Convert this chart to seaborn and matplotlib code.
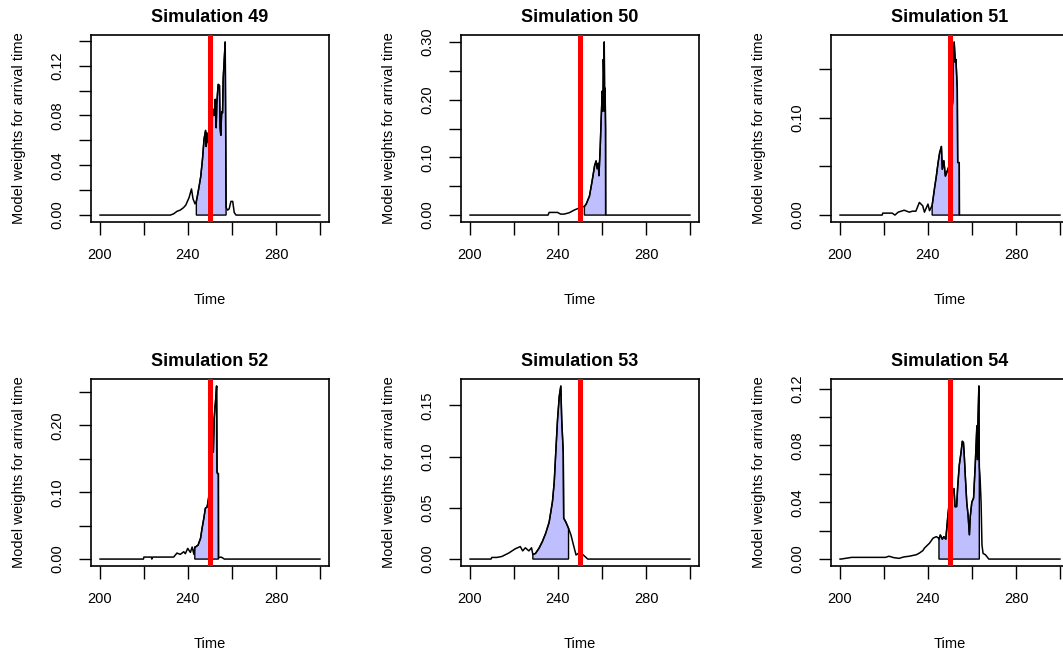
import numpy as np
import pandas as pd
import matplotlib
matplotlib.use('Agg')
import matplotlib.pyplot as plt
import seaborn as sns

# Model weights per simulation
time_49 = [200, 232.0, 233.5, 235.0, 236.5, 238.0, 239.0, 240.5, 241.6, 242.3, 243.2, 243.8, 244.3, 245.1,
           245.8, 246.6, 247.3, 248.0, 248.3, 248.6, 249.2, 249.8, 250.4, 251.0, 251.6, 252.0, 252.4, 252.8,
           253.1, 253.7, 254.3, 254.6, 254.9, 255.3, 255.7, 256.0, 256.4, 256.9, 257.1, 257.3, 258.0, 258.7,
           259.5, 260.3, 261.0, 261.8, 300]
weights_49 = [0, 0, 0.001, 0.003, 0.004, 0.006, 0.008, 0.014, 0.021, 0.013, 0.009, 0.011, 0.0155, 0.0235,
              0.031, 0.045, 0.061, 0.068, 0.055, 0.066, 0.058, 0.064, 0.072, 0.078, 0.085, 0.080, 0.093, 0.070,
              0.090, 0.105, 0.104, 0.070, 0.064, 0.083, 0.082, 0.110, 0.123, 0.139, 0.075, 0.006, 0.004, 0.005,
              0.011, 0.011, 0.002, 0, 0]

time_50 = [200, 235.5, 236.0, 239.8, 241.2, 242.8, 245.1, 247.4, 248.2, 249.5, 251.2, 252.0, 252.8, 254.3,
           255.5, 256.6, 257.3, 257.8, 258.3, 258.6, 259.2, 259.6, 260.1, 260.4, 260.6, 260.8, 261.0, 261.2,
           261.4, 261.6, 261.7, 300]
weights_50 = [0, 0, 0.0046, 0.0046, 0.0017, 0.0017, 0.004, 0.0087, 0.010, 0.012, 0.0144, 0.015, 0.019, 0.033,
              0.059, 0.085, 0.094, 0.080, 0.090, 0.068, 0.120, 0.166, 0.215, 0.180, 0.270, 0.240, 0.300, 0.180,
              0.220, 0.149, 0, 0]

time_51 = [200, 219.2, 219.5, 223.8, 225.0, 226.5, 229.2, 231.5, 233.0, 234.5, 236.1, 237.6, 238.4, 240.0,
           240.7, 241.9, 242.3, 243.0, 243.8, 244.6, 245.3, 246.1, 246.5, 247.2, 247.9, 248.7, 249.5, 250.2,
           250.7, 251.2, 251.5, 251.9, 252.4, 252.7, 253.3, 253.5, 254.2, 254.3, 300]
weights_51 = [0, 0, 0.002, 0.002, 0.0, 0.003, 0.005, 0.003, 0.004, 0.004, 0.013, 0.0096, 0.003, 0.0113,
              0.0045, 0.010, 0.0164, 0.028, 0.040, 0.054, 0.064, 0.0706, 0.047, 0.056, 0.040, 0.045, 0.050, 0.080,
              0.105, 0.116, 0.157, 0.178, 0.157, 0.160, 0.130, 0.054, 0.054, 0, 0]

time_52 = [200, 219.8, 220.0, 223.4, 223.6, 224.0, 233.5, 235.0, 236.5, 238.1, 238.8, 239.9, 241.1, 241.9,
           242.7, 243.1, 243.4, 244.6, 245.7, 246.4, 247.2, 247.9, 248.7, 249.3, 250.0, 250.7, 251.2, 251.5,
           251.9, 252.2, 252.7, 253.0, 253.2, 253.4, 253.8, 253.9, 255.0, 255.6, 256.5, 300]
weights_52 = [0, 0, 0.003, 0.003, 0, 0.003, 0.003, 0.009, 0.007, 0.011, 0.008, 0.016, 0.010, 0.018,
              0.007, 0.018, 0.018, 0.021, 0.031, 0.046, 0.061, 0.076, 0.078, 0.090, 0.110, 0.150, 0.190, 0.160,
              0.210, 0.224, 0.244, 0.259, 0.130, 0.128, 0.128, 0.002, 0.003, 0.002, 0, 0]

time_53 = [200, 209.6, 210.0, 212.2, 214.5, 217.6, 220.6, 222.9, 224.0, 225.2, 226.8, 228.0, 228.6, 229.8,
           231.4, 232.9, 234.4, 236.0, 237.5, 238.3, 239.0, 239.8, 240.6, 241.3, 241.7, 242.4, 242.6, 243.6,
           244.8, 245.9, 247.0, 248.2, 249.5, 251.2, 252.5, 253.5, 300]
weights_53 = [0, 0, 0.0016, 0.0016, 0.0025, 0.0058, 0.010, 0.0122, 0.008, 0.011, 0.008, 0.011, 0.0045, 0.0055,
              0.0106, 0.017, 0.025, 0.036, 0.056, 0.075, 0.104, 0.136, 0.159, 0.169, 0.136, 0.104, 0.040, 0.036,
              0.030, 0.0235, 0.014, 0.004, 0.006, 0.0045, 0.002, 0, 0]

time_54 = [200, 200.5, 205.4, 220.7, 222.3, 224.5, 226.9, 229.0, 231.5, 233.0, 234.6, 236.1, 237.7, 238.4,
           240.7, 242.3, 243.8, 244.6, 245.0, 245.6, 246.5, 247.2, 248.1, 249.0, 250.0, 251.2, 251.8, 252.3,
           253.0, 253.5, 254.2, 255.0, 255.6, 256.1, 256.4, 257.0, 257.6, 258.2, 258.8, 259.2, 259.9, 260.7,
           261.5, 262.2, 262.5, 262.7, 263.1, 263.3, 263.6, 264.1, 264.5, 265.0, 266.1, 267.6, 300]
weights_54 = [0, 0, 0.0012, 0.0012, 0.002, 0.001, 0.0005, 0.0015, 0.002, 0.0025, 0.003, 0.0042, 0.006, 0.0077,
              0.0112, 0.0147, 0.0158, 0.015, 0.014, 0.017, 0.014, 0.0158, 0.014, 0.030, 0.045, 0.047, 0.0497,
              0.0368, 0.037, 0.051, 0.066, 0.075, 0.083, 0.082, 0.075, 0.057, 0.040, 0.031, 0.017, 0.030, 0.040,
              0.043, 0.068, 0.094, 0.070, 0.097, 0.1219, 0.065, 0.059, 0.040, 0.010, 0.004, 0.003, 0, 0]

# shaded interval (lower, upper) per simulation
interval_49 = [243.8, 257.3]
interval_50 = [252.0, 261.6]
interval_51 = [241.9, 254.2]
interval_52 = [243.1, 253.8]
interval_53 = [228.6, 244.8]
interval_54 = [245.0, 263.3]

true_time = 250
sim_ids = [49, 50, 51, 52, 53, 54]

yticks_49 = [0, 0.02, 0.04, 0.06, 0.08, 0.10, 0.12, 0.14]
ylabels_49 = ['0.00', '', '0.04', '', '0.08', '', '0.12', '']
yticks_50 = [0, 0.05, 0.10, 0.15, 0.20, 0.25, 0.30]
ylabels_50 = ['0.00', '', '0.10', '', '0.20', '', '0.30']
yticks_51 = [0, 0.05, 0.10, 0.15]
ylabels_51 = ['0.00', '', '0.10', '']
yticks_52 = [0, 0.05, 0.10, 0.15, 0.20, 0.25]
ylabels_52 = ['0.00', '', '0.10', '', '0.20', '']
yticks_53 = [0, 0.05, 0.10, 0.15]
ylabels_53 = ['0.00', '0.05', '0.10', '0.15']
yticks_54 = [0, 0.02, 0.04, 0.06, 0.08, 0.10, 0.12]
ylabels_54 = ['0.00', '', '0.04', '', '0.08', '', '0.12']

xticks = [200, 220, 240, 260, 280, 300]
xlabels = ['200', '', '240', '', '280', '']

times = [time_49, time_50, time_51, time_52, time_53, time_54]
weights = [weights_49, weights_50, weights_51, weights_52, weights_53, weights_54]
intervals = [interval_49, interval_50, interval_51, interval_52, interval_53, interval_54]
yticks = [yticks_49, yticks_50, yticks_51, yticks_52, yticks_53, yticks_54]
ylabels = [ylabels_49, ylabels_50, ylabels_51, ylabels_52, ylabels_53, ylabels_54]

sns.set_theme(style='ticks')
plt.rcParams['font.family'] = ['Liberation Sans', 'DejaVu Sans']
plt.rcParams['text.color'] = 'black'
plt.rcParams['axes.labelcolor'] = 'black'

W, H = 1063, 653
fig = plt.figure(figsize=(W / 100, H / 100), dpi=100)

col_left = [91, 461, 831]
row_top = [35, 379]
box_w, box_h = 238, 187

for i, sim in enumerate(sim_ids):
    r, c = divmod(i, 3)
    ax = fig.add_axes([col_left[c] / W, 1 - (row_top[r] + box_h) / H, box_w / W, box_h / H])
    df = pd.DataFrame({'Time': times[i], 'Weight': weights[i]})

    # shaded interval under the curve
    lo, hi = intervals[i]
    sel = df[(df['Time'] >= lo) & (df['Time'] <= hi)]
    ax.fill(np.r_[lo, sel['Time'], hi], np.r_[0, sel['Weight'], 0],
            facecolor='#BFBFFF', edgecolor='black', lw=1.0, zorder=2)

    sns.lineplot(data=df, x='Time', y='Weight', ax=ax, color='black', lw=1.1,
                 estimator=None, sort=False, zorder=3)
    ax.axvline(true_time, color='red', lw=3.6, zorder=4)

    wmax = df['Weight'].max()
    ax.set_xlim(196, 304)
    ax.set_ylim(-0.04 * wmax, 1.04 * wmax)
    ax.set_xticks(xticks)
    ax.set_xticklabels(xlabels)
    ax.set_yticks(yticks[i])
    ax.set_yticklabels(ylabels[i], rotation=90, va='center')

    ax.tick_params(direction='out', length=9, width=1.0, labelsize=10.5, pad=10,
                   colors='black', labelcolor='black')
    for sp in ax.spines.values():
        sp.set_visible(True)
        sp.set_color('black')
        sp.set_linewidth(1.2)

    ax.set_title(f'Simulation {sim}', fontsize=13, fontweight='bold', pad=9, color='black')
    ax.set_xlabel('Time', fontsize=10.5)
    ax.set_ylabel('Model weights for arrival time', fontsize=10.5)
    ax.xaxis.set_label_coords(0.5, -0.38)
    ax.yaxis.set_label_coords(-0.275, 0.5)

fig.savefig('out.png', dpi=100)
plt.close(fig)
